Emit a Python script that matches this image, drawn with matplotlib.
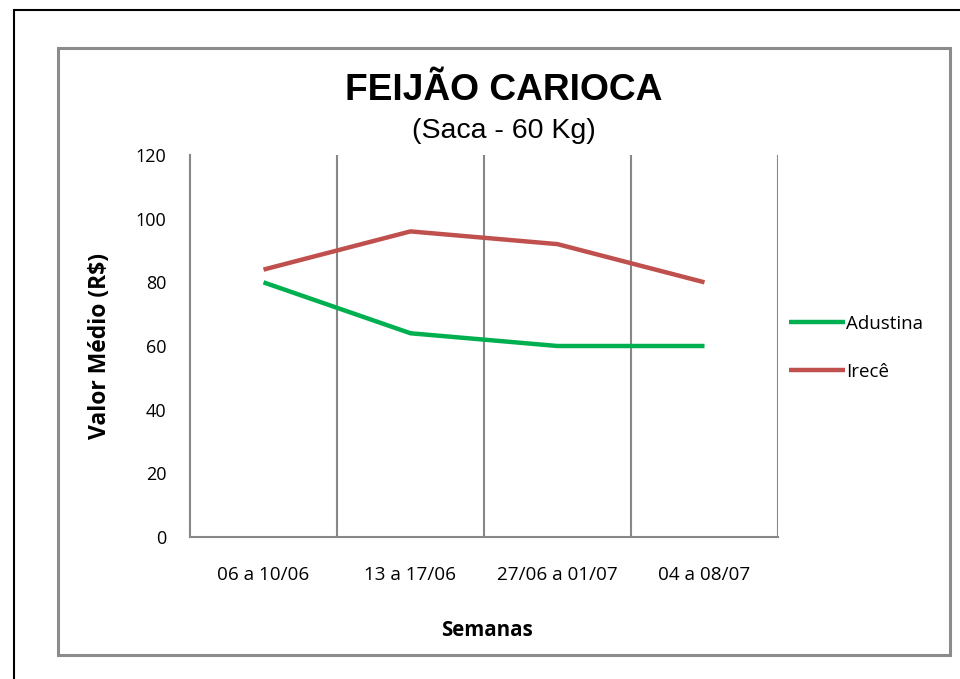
import matplotlib
matplotlib.use("Agg")
import matplotlib.pyplot as plt
from matplotlib.patches import Rectangle

categories = ["06 a 10/06", "13 a 17/06", "27/06 a 01/07", "04 a 08/07"]
adustina = [80, 64, 60, 60]
irece = [84, 96, 92, 80]
yticks = [0, 20, 40, 60, 80, 100, 120]

W, H = 960, 679
fig = plt.figure(figsize=(W/100, H/100), dpi=100)

def fx(x): return x / W
def fy(y): return 1 - y / H

FONT = "Open Sans"

# outer black border
fig.patches.append(Rectangle((fx(14), fy(700)), fx(1000) - fx(14), fy(10) - fy(700),
                             transform=fig.transFigure, fill=False, edgecolor="black", lw=1.5))
# inner gray border
fig.patches.append(Rectangle((fx(58), fy(655)), fx(950) - fx(58), fy(48) - fy(655),
                             transform=fig.transFigure, fill=False, edgecolor="#8c8c8c", lw=2.2))

ax = fig.add_axes([fx(190), fy(537), fx(778) - fx(190), fy(155) - fy(537)])
x = list(range(len(categories)))
ax.plot(x, adustina, color="#00B050", lw=3.2, label="Adustina", solid_capstyle="butt")
ax.plot(x, irece, color="#C0504D", lw=3.2, label="Irecê", solid_capstyle="butt")

ax.set_xlim(-0.5, len(categories) - 0.5)
ax.set_ylim(0, 120)
ax.set_yticks(yticks)
ax.set_yticklabels([str(v) for v in yticks], family=FONT, fontsize=13)
ax.set_xticks(x)
ax.set_xticklabels(categories, family=FONT, fontsize=13.6)
ax.tick_params(axis="y", length=0, pad=17)
ax.tick_params(axis="x", length=0, pad=21)
for b in [0.5, 1.5, 2.5, 3.5]:
    ax.axvline(b, color="#878787", lw=1.5, zorder=0)
for s in ["top", "right"]:
    ax.spines[s].set_visible(False)
for s in ["left", "bottom"]:
    ax.spines[s].set_color("#878787")
    ax.spines[s].set_linewidth(1.5)

fig.text(fx(504), fy(90), "FEIJÃO CARIOCA", ha="center", va="center",
         family="Liberation Sans", fontweight="bold", fontsize=26.7)
fig.text(fx(504), fy(131), "(Saca - 60 Kg)", ha="center", va="center",
         family="Liberation Sans", fontsize=20.5)
fig.text(fx(100), fy(346), "Valor Médio (R$)", ha="center", va="center", rotation=90,
         family=FONT, fontweight="bold", fontsize=16.5)
fig.text(fx(487), fy(631), "Semanas", ha="center", va="center",
         family=FONT, fontweight="bold", fontsize=14.8)

leg = fig.legend(loc="center left", bbox_to_anchor=(fx(772), fy(348)), frameon=False,
                 prop={"family": FONT, "size": 13.5}, handlelength=3.0,
                 handletextpad=0.05, labelspacing=1.6)

fig.savefig("out.png", dpi=100)
